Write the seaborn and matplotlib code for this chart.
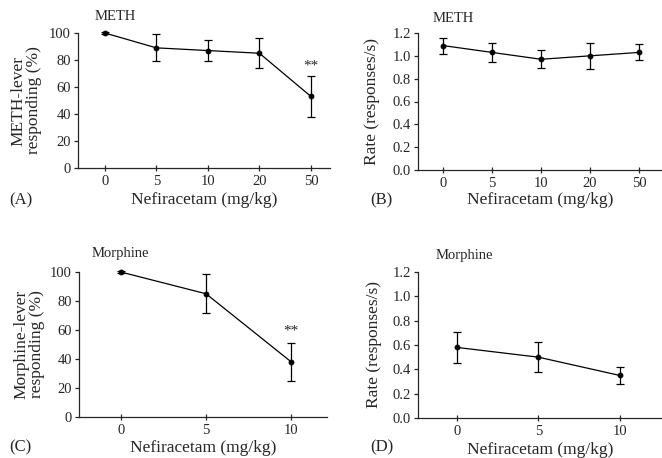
import matplotlib
matplotlib.use("Agg")
import matplotlib.pyplot as plt
import seaborn as sns

# panel data (means with SEM-like error bars)
meth_doses = ["0", "5", "10", "20", "50"]
meth_resp = [100, 89, 87, 85, 53]
meth_resp_err = [0.5, 10, 8, 11, 15.5]
meth_rate = [1.09, 1.03, 0.97, 1.00, 1.03]
meth_rate_err = [0.07, 0.08, 0.08, 0.115, 0.07]

morph_doses = ["0", "5", "10"]
morph_resp = [100, 85, 38]
morph_resp_err = [0.5, 13.5, 13]
morph_rate = [0.58, 0.50, 0.35]
morph_rate_err = [0.125, 0.125, 0.07]

sns.set_theme(style="ticks")
plt.rcParams["font.family"] = ["Liberation Serif", "DejaVu Serif"]

W, H = 662, 458
fig = plt.figure(figsize=(W / 100, H / 100), dpi=100)
fig.patch.set_facecolor("white")


def px_axes(left, right, top, bottom):
    return fig.add_axes([left / W, 1 - bottom / H, (right - left) / W, (bottom - top) / H])


def panel(ax, doses, vals, errs, xlim, ylim, yticks, ylabel, fmt):
    sns.pointplot(x=doses, y=vals, color="black", errorbar=None, markers="o",
                  markersize=3.5, linewidth=0.9, ax=ax)
    ax.errorbar(range(len(doses)), vals, yerr=errs, fmt="none", ecolor="black",
                elinewidth=0.9, capsize=3, capthick=0.9)
    ax.set_xlim(*xlim)
    ax.set_ylim(*ylim)
    ax.set_yticks(yticks)
    ax.set_yticklabels([fmt.format(t) for t in yticks])
    ax.set_ylabel(ylabel, fontsize=12.5, linespacing=0.95)
    ax.set_xlabel("Nefiracetam (mg/kg)", fontsize=12.5)
    sns.despine(ax=ax)
    for s in ["left", "bottom"]:
        ax.spines[s].set_linewidth(0.9)
    ax.tick_params(axis="y", direction="out", length=3, width=0.9, labelsize=10.5, pad=2)
    ax.tick_params(axis="x", direction="inout", length=4, width=0.9, labelsize=10.5, pad=3)
    ax.set_facecolor("white")
    for c in ax.get_children():
        if hasattr(c, "set_clip_on"):
            c.set_clip_on(False)


axA = px_axes(78, 330, 33, 168)
panel(axA, meth_doses, meth_resp, meth_resp_err, (-0.52, 4.37), (0, 100),
      [0, 20, 40, 60, 80, 100], "METH-lever\nresponding (%)", "{:.0f}")
axA.text(4, 71, "**", ha="center", va="bottom", fontsize=11)

axB = px_axes(418, 662, 33, 170)
panel(axB, meth_doses, meth_rate, meth_rate_err, (-0.51, 4.47), (0, 1.2),
      [0, 0.2, 0.4, 0.6, 0.8, 1.0, 1.2], "Rate (responses/s)", "{:.1f}")

axC = px_axes(79, 327, 272, 417)
panel(axC, morph_doses, morph_resp, morph_resp_err, (-0.49, 2.42), (0, 100),
      [0, 20, 40, 60, 80, 100], "Morphine-lever\nresponding (%)", "{:.0f}")
axC.text(2, 55, "**", ha="center", va="bottom", fontsize=11)

axD = px_axes(418, 662, 272, 418)
panel(axD, morph_doses, morph_rate, morph_rate_err, (-0.48, 2.52), (0, 1.2),
      [0, 0.2, 0.4, 0.6, 0.8, 1.0, 1.2], "Rate (responses/s)", "{:.1f}")

axA.yaxis.set_label_coords(-0.143, 0.5)
axC.yaxis.set_label_coords(-0.137, 0.5)
axB.yaxis.set_label_coords(-0.156, 0.5)
axD.yaxis.set_label_coords(-0.148, 0.5)
axA.xaxis.set_label_coords(0.5, -0.178)
axB.xaxis.set_label_coords(0.5, -0.16)
axC.xaxis.set_label_coords(0.5, -0.159)
axD.xaxis.set_label_coords(0.5, -0.164)

# panel titles and letters
fig.text(95 / W, 1 - 17 / H, "METH", fontsize=10.5, va="center")
fig.text(433 / W, 1 - 19 / H, "METH", fontsize=10.5, va="center")
fig.text(92 / W, 1 - 254 / H, "Morphine", fontsize=10.5, va="center")
fig.text(436 / W, 1 - 256 / H, "Morphine", fontsize=10.5, va="center")
fig.text(9 / W, 1 - 200 / H, "(A)", fontsize=12, va="center")
fig.text(370 / W, 1 - 200 / H, "(B)", fontsize=12, va="center")
fig.text(9 / W, 1 - 447 / H, "(C)", fontsize=12, va="center")
fig.text(370 / W, 1 - 447 / H, "(D)", fontsize=12, va="center")

fig.savefig("out.png", dpi=100, facecolor="white")
